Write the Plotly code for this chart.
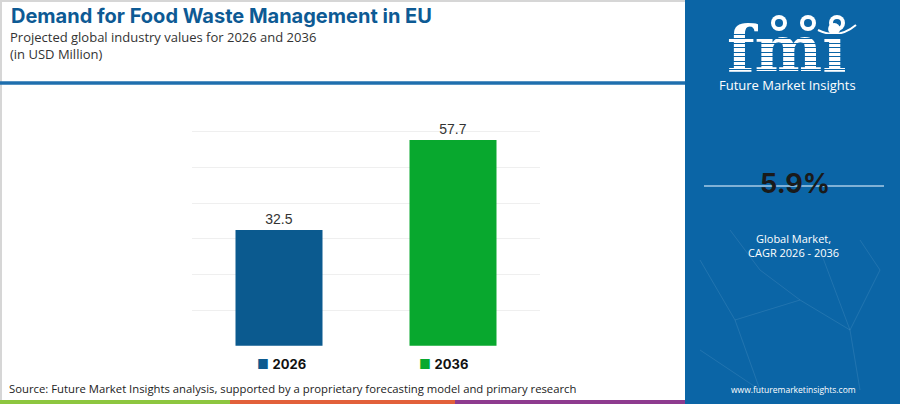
import plotly.graph_objects as go

# chart data
years = ["2026", "2036"]
values = [32.5, 57.7]
bar_colors = ["#0b5a8f", "#08a82e"]
cagr = "5.9%"

# plot area in pixels (900 x 404 canvas)
L, R, T, B = 192, 540, 96, 346
W, H = R - L, B - T


def px(x):
    return (x - L) / W


def py(y):
    return (B - y) / H


def note(text, x, y, size, color, family="Open Sans", xanchor="center"):
    return dict(text=text, xref="paper", yref="paper", x=px(x), y=py(y),
                xanchor=xanchor, yanchor="middle", showarrow=False,
                font=dict(family=family, size=size, color=color))


fig = go.Figure()
for yr, val, col in zip(years, values, bar_colors):
    fig.add_trace(go.Bar(
        x=[yr], y=[val], marker_color=col, marker_line_width=0,
        text=[f"{val:.1f}"], textposition="outside", cliponaxis=False,
        textfont=dict(family="Liberation Sans", size=14, color="#333333"),
        name=yr, showlegend=False, width=0.5,
    ))

shapes = []
annotations = []

# outer border
shapes.append(dict(type="rect", xref="paper", yref="paper",
                   x0=px(1), x1=px(899), y0=py(403), y1=py(1),
                   line=dict(color="#d6d6d6", width=2), layer="below"))
# header rule
shapes.append(dict(type="line", xref="paper", yref="paper",
                   x0=px(0), x1=px(685), y0=py(83), y1=py(83),
                   line=dict(color="#1f6fae", width=3.5)))
# bottom colour strip
for x0, x1, col in [(0, 230, "#8dc63f"), (230, 455, "#e2603a"), (455, 685, "#8e3b8f")]:
    shapes.append(dict(type="rect", xref="paper", yref="paper",
                       x0=px(x0), x1=px(x1), y0=py(404), y1=py(400),
                       line_width=0, fillcolor=col))
# right panel
panel = "#0b65a6"
shapes.append(dict(type="rect", xref="paper", yref="paper",
                   x0=px(685), x1=px(900), y0=py(404), y1=py(0),
                   line_width=0, fillcolor=panel))
# faint network lines on panel
net = [(700, 260, 735, 320), (735, 320, 760, 390), (735, 320, 800, 300),
       (800, 300, 850, 330), (850, 330, 880, 270), (760, 270, 800, 300),
       (820, 250, 850, 330), (850, 330, 860, 390), (700, 350, 760, 390),
       (730, 230, 760, 270), (860, 240, 880, 270)]
for x0, y0, x1, y1 in net:
    shapes.append(dict(type="line", xref="paper", yref="paper",
                       x0=px(x0), x1=px(x1), y0=py(y0), y1=py(y1),
                       line=dict(color="rgba(160,200,230,0.15)", width=1)))

# fmi logo (stripes are thin annotation boxes so they sit over the letters)
annotations.append(dict(text="<b>fmi</b>", xref="paper", yref="paper", x=px(787), y=py(48),
                        xanchor="center", yanchor="middle", showarrow=False,
                        height=62, borderpad=0,
                        font=dict(family="DejaVu Serif", size=64, color="white")))
yy = 34.0
while yy < 72:
    annotations.append(dict(text=" ", xref="paper", yref="paper", x=px(787), y=py(yy),
                            xanchor="center", yanchor="middle", showarrow=False,
                            width=140, height=1, borderpad=0, borderwidth=0,
                            bgcolor=panel, font=dict(size=1)))
    yy += 4.5
for cx in [779, 808, 837]:
    shapes.append(dict(type="circle", xref="paper", yref="paper",
                       x0=px(cx - 8), x1=px(cx + 8), y0=py(31), y1=py(15),
                       line_width=0, fillcolor="white"))
    shapes.append(dict(type="circle", xref="paper", yref="paper",
                       x0=px(cx - 4), x1=px(cx + 4), y0=py(27), y1=py(19),
                       line_width=0, fillcolor=panel))
shapes.append(dict(type="path", xref="paper", yref="paper",
                   path=f"M {px(818)},{py(30)} Q {px(838)},{py(40)} {px(856)},{py(25)}",
                   line=dict(color="white", width=2)))
annotations.append(note("Future Market Insights", 787, 85, 13, "white"))

# CAGR block
shapes.append(dict(type="line", xref="paper", yref="paper",
                   x0=px(704), x1=px(884), y0=py(186), y1=py(186),
                   line=dict(color="#a8cbe6", width=1.5)))
annotations.append(note(f"<b>{cagr}</b>", 795, 183, 27, "#1a1a1a", family="Inter"))
annotations.append(note("Global Market,<br>CAGR 2026 - 2036", 793, 245, 11, "white"))
annotations.append(note("www.futuremarketinsights.com", 793, 389, 8.5, "white"))

# header texts
annotations.append(note("<b>Demand for Food Waste Management in EU</b>", 9, 16.5, 20,
                        "#0d5a94", family="Inter", xanchor="left"))
annotations.append(note("Projected global industry values for 2026 and 2036", 8, 37, 13,
                        "#333333", xanchor="left"))
annotations.append(note("(in USD Million)", 8, 54, 13, "#333333", xanchor="left"))

# legend
for yr, col, lx in zip(years, bar_colors, [255, 417]):
    annotations.append(note(f"<span style='color:{col}'>■</span> <b>{yr}</b>", lx, 364, 13,
                            "#111111", family="Inter", xanchor="left"))

# source
annotations.append(note("Source: Future Market Insights analysis, supported by a proprietary "
                        "forecasting model and primary research", 7, 388, 11.3, "#222222",
                        xanchor="left"))

fig.update_layout(
    width=900, height=404, autosize=False,
    margin=dict(l=L, r=900 - R, t=T, b=404 - B, pad=0),
    paper_bgcolor="white", plot_bgcolor="white",
    barmode="overlay",
    shapes=shapes, annotations=annotations,
    xaxis=dict(showticklabels=False, showgrid=False, zeroline=False, showline=False,
               ticks="", fixedrange=True),
    yaxis=dict(range=[-0.05, 70.05], tickvals=[0, 10, 20, 30, 40, 50, 60, 70],
               showticklabels=False, showgrid=True,
               gridcolor="#efefef", gridwidth=1, zeroline=False, showline=False, ticks=""),
    font=dict(family="Open Sans"),
)

fig.write_html("out.html", config={"displayModeBar": False},
               post_script="document.body.style.margin='0';")
